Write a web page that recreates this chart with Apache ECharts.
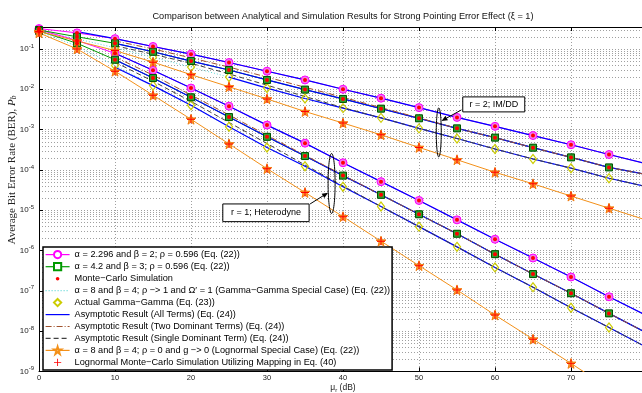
<!DOCTYPE html>
<html><head><meta charset="utf-8">
<script src="https://cdn.jsdelivr.net/npm/echarts@6/dist/echarts.min.js"></script>
<style>html,body{margin:0;padding:0;background:#fff}#c{width:642px;height:393px}</style>
</head><body><div id="c"></div>
<script>
// ---- x positions (dB) ----
const mu = [0,5,10,15,20,25,30,35,40,45,50,55,60,65,70,75,80];

// ---- r = 2 (IM/DD) exact results ----
const imddAlpha2296 = [3.2e-1,2.5e-1,1.8e-1,1.15e-1,7.4e-2,4.6e-2,2.8e-2,1.7e-2,1.0e-2,6.0e-3,3.5e-3,2.0e-3,1.2e-3,7.1e-4,4.2e-4,2.4e-4,1.4e-4];
const imddAlpha42   = [2.95e-1,2.0e-1,1.38e-1,8.5e-2,5.0e-2,3.0e-2,1.7e-2,9.8e-3,5.75e-3,3.3e-3,1.9e-3,1.07e-3,6.3e-4,3.55e-4,2.04e-4,1.15e-4,7.6e-5];
const imddGammaGamma= [2.8e-1,1.78e-1,1.07e-1,6.2e-2,3.55e-2,2.0e-2,1.07e-2,5.9e-3,3.4e-3,1.95e-3,1.07e-3,6.0e-4,3.3e-4,1.86e-4,1.1e-4,6.2e-5,3.8e-5];
const imddLognormal = [2.7e-1,1.58e-1,9.1e-2,4.7e-2,2.3e-2,1.15e-2,5.75e-3,2.8e-3,1.45e-3,7.4e-4,3.6e-4,1.78e-4,8.7e-5,4.5e-5,2.24e-5,1.12e-5,5.6e-6];

// ---- r = 1 (Heterodyne) exact results ----
const hetAlpha2296 = [3.0e-1,1.62e-1,7.8e-2,2.95e-2,1.07e-2,3.8e-3,1.29e-3,4.6e-4,1.5e-4,5.1e-5,1.74e-5,5.75e-6,1.9e-6,6.5e-7,2.2e-7,7.1e-8,2.4e-8];
const hetAlpha42   = [2.8e-1,1.38e-1,5.4e-2,1.9e-2,6.3e-3,2.04e-3,6.6e-4,2.2e-4,7.2e-5,2.4e-5,7.9e-6,2.6e-6,8.1e-7,2.6e-7,8.7e-8,2.75e-8,8.9e-9];
const hetGammaGamma= [2.7e-1,1.17e-1,3.9e-2,1.23e-2,4.0e-3,1.17e-3,3.6e-4,1.23e-4,3.8e-5,1.23e-5,3.9e-6,1.23e-6,3.8e-7,1.23e-7,3.8e-8,1.23e-8,3.9e-9];
const hetLognormal = [2.5e-1,1.0e-1,2.8e-2,7.1e-3,1.8e-3,4.4e-4,1.07e-4,2.75e-5,6.9e-6,1.7e-6,4.2e-7,1.05e-7,2.5e-8,6.3e-9,1.58e-9,3.8e-10,9.5e-11];

// ---- asymptotic results (start dB, values every 5 dB) ----
const imddAllTermsA2296Start = 5;
const imddAllTermsA2296 = [2.7e-1,1.8e-1,1.15e-1,7.4e-2,4.6e-2,2.8e-2,1.7e-2,1.0e-2,6.0e-3,3.5e-3,2.0e-3,1.2e-3,7.1e-4,4.2e-4,2.4e-4,1.4e-4];
const imddAllTermsA42Start = 10;
const imddAllTermsA42 = [1.38e-1,8.5e-2,5.0e-2,3.0e-2,1.7e-2,9.8e-3,5.75e-3,3.3e-3,1.9e-3,1.07e-3,6.3e-4,3.55e-4,2.04e-4,1.15e-4,7.6e-5];
const imddAllTermsGGStart = 25;
const imddAllTermsGG = [2.0e-2,1.07e-2,5.9e-3,3.4e-3,1.95e-3,1.07e-3,6.0e-4,3.3e-4,1.86e-4,1.1e-4,6.2e-5,3.8e-5];
const hetAllTermsA2296Start = 10;
const hetAllTermsA2296 = [7.8e-2,2.95e-2,1.07e-2,3.8e-3,1.29e-3,4.6e-4,1.5e-4,5.1e-5,1.74e-5,5.75e-6,1.9e-6,6.5e-7,2.2e-7,7.1e-8,2.4e-8];
const hetAllTermsA42Start = 10;
const hetAllTermsA42 = [5.4e-2,1.9e-2,6.3e-3,2.04e-3,6.6e-4,2.2e-4,7.2e-5,2.4e-5,7.9e-6,2.6e-6,8.1e-7,2.6e-7,8.7e-8,2.75e-8,8.9e-9];
const hetAllTermsGGStart = 10;
const hetAllTermsGG = [3.5e-2,1.23e-2,4.0e-3,1.17e-3,3.6e-4,1.23e-4,3.8e-5,1.23e-5,3.9e-6,1.23e-6,3.8e-7,1.23e-7,3.8e-8,1.23e-8,3.9e-9];

const imddTwoTermsStart = 10;
const imddTwoTerms = [1.58e-1,1.0e-1,6.0e-2,3.55e-2,2.0e-2,1.12e-2,6.3e-3,3.5e-3,1.95e-3,1.07e-3,6.3e-4,3.55e-4,2.04e-4,1.15e-4,7.6e-5];
const hetTwoTermsStart = 10;
const hetTwoTerms = [6.3e-2,2.24e-2,7.2e-3,2.3e-3,7.2e-4,2.3e-4,7.4e-5,2.4e-5,7.9e-6,2.6e-6,8.1e-7,2.6e-7,8.7e-8,2.75e-8,8.9e-9];

const imddOneTermStart = 10;
const imddOneTerm = [1.2e-1,7.4e-2,4.4e-2,2.4e-2,1.26e-2,6.6e-3,3.5e-3,1.95e-3,1.07e-3,6.0e-4,3.3e-4,1.86e-4,1.1e-4,6.2e-5,3.8e-5];
const hetOneTermStart = 10;
const hetOneTerm = [4.7e-2,1.58e-2,5.0e-3,1.5e-3,4.5e-4,1.32e-4,4.0e-5,1.23e-5,3.9e-6,1.23e-6,3.8e-7,1.23e-7,3.8e-8,1.23e-8,3.9e-9];

// ---- names / labels ----
const N1 = 'α = 2.296 and β = 2; ρ = 0.596 (Eq. (22))';
const N2 = 'α = 4.2 and β = 3; ρ = 0.596 (Eq. (22))';
const N3 = 'Monte−Carlo Simulation';
const N4 = 'α = 8 and β = 4; ρ −> 1 and Ω′ = 1 (Gamma−Gamma Special Case) (Eq. (22))';
const N5 = 'Actual Gamma−Gamma (Eq. (23))';
const N6 = 'Asymptotic Result (All Terms) (Eq. (24))';
const N7 = 'Asymptotic Result (Two Dominant Terms) (Eq. (24))';
const N8 = 'Asymptotic Result (Single Dominant Term) (Eq. (24))';
const N9 = 'α = 8 and β = 4; ρ = 0 and g −> 0 (Lognormal Special Case) (Eq. (22))';
const N10 = 'Lognormal Monte−Carlo Simulation Utilizing Mapping in Eq. (40)';
const titleText = 'Comparison between Analytical and Simulation Results for Strong Pointing Error Effect (ξ = 1)';
const annoIMDD = 'r = 2; IM/DD';
const annoHet = 'r = 1; Heterodyne';

// ---- styling ----
const FONT = '"Liberation Sans", Arial, sans-serif';
const SERIF = '"Liberation Serif", "Times New Roman", serif';
const GRIDC = '#a0a0a0';
const STAR = 'path://M50,2 L61,37 L98,37 L68,59 L79,94 L50,72 L21,94 L32,59 L2,37 L39,37 Z';
const PLUS = 'path://M4.4,0 H5.6 V4.4 H10 V5.6 H5.6 V10 H4.4 V5.6 H0 V4.4 H4.4 Z';
const SMALLDOT = 'path://M0,0 M20,20 M6,10 A4,4 0 1,1 14,10 A4,4 0 1,1 6,10 Z';

const hideSym = { itemStyle: { opacity: 0 } };
const legendData = [
  { name: N1 }, { name: N2 }, { name: N3, icon: SMALLDOT }, { name: N4, ...hideSym }, { name: N5 },
  { name: N6, ...hideSym }, { name: N7, ...hideSym }, { name: N8, ...hideSym }, { name: N9 }, { name: N10 }
];

const pts = (xs, ys) => ys.map((v, i) => [xs[i], v]);
const from = (start, ys) => ys.map((v, i) => [start + 5 * i, v]);
const markersOnly = (xs, ys) => pts(xs, ys).slice(0, 16);

// minor grid values (2..9 x 10^n) inside the plotted range
const yMin = 1e-9, yMax = 0.35;
const minorGrid = [];
for (let e = -9; e <= -1; e++) for (let k = 2; k <= 9; k++) { const v = k * Math.pow(10, e); if (v < yMax) minorGrid.push([0, v]); }

const series = [];
// minor log grid lines drawn through the axis scales
series.push({ type: 'custom', name: '_grid', silent: true, z: 0, data: minorGrid, encode: { x: 0, y: 1 },
  renderItem: (params, api) => {
    const v = api.value(1);
    const p1 = api.coord([0, v]), p2 = api.coord([80, v]);
    const y = Math.round(p1[1]) + 0.5;
    return { type: 'line', silent: true, shape: { x1: p1[0], y1: y, x2: p2[0], y2: y },
      style: { stroke: GRIDC, lineWidth: 1, lineDash: [1, 2] } };
  } });

// cyan dotted gamma-gamma special case
[imddGammaGamma, hetGammaGamma].forEach(arr => series.push({ name: N4, type: 'line', data: pts(mu, arr), symbol: 'none',
  lineStyle: { color: '#5fd7d7', width: 1, type: [1,2] }, itemStyle: { color: '#5fd7d7' }, z: 1 }));

// exact lines
[imddAlpha2296, hetAlpha2296].forEach(arr => series.push({ name: N1, type: 'line', data: pts(mu, arr), symbol: 'circle', symbolSize: 7,
  lineStyle: { color: '#ff00ff', width: 1 }, itemStyle: { color: '#ffffff', borderColor: '#ff00ff', borderWidth: 1 }, z: 2 }));
[imddAlpha42, hetAlpha42].forEach(arr => series.push({ name: N2, type: 'line', data: pts(mu, arr), symbol: 'rect', symbolSize: 6,
  lineStyle: { color: '#009a00', width: 1 }, itemStyle: { color: '#ffffff', borderColor: '#009a00', borderWidth: 1 }, z: 2 }));
[imddLognormal, hetLognormal].forEach(arr => series.push({ name: N9, type: 'line', data: pts(mu, arr), symbol: STAR, symbolSize: 9,
  lineStyle: { color: '#f39019', width: 1 }, itemStyle: { color: '#ffe2b8', borderColor: '#f39019', borderWidth: 1 }, z: 2 }));

// asymptotic all terms (blue)
[[imddAllTermsA2296Start, imddAllTermsA2296],[imddAllTermsA42Start, imddAllTermsA42],[imddAllTermsGGStart, imddAllTermsGG],
 [hetAllTermsA2296Start, hetAllTermsA2296],[hetAllTermsA42Start, hetAllTermsA42],[hetAllTermsGGStart, hetAllTermsGG]]
 .forEach(([s, arr]) => series.push({ name: N6, type: 'line', data: from(s, arr), symbol: 'none',
  lineStyle: { color: '#0000ff', width: 1.2 }, itemStyle: { color: '#0000ff' }, z: 3 }));
// two dominant terms (brown dash-dot)
[[imddTwoTermsStart, imddTwoTerms],[hetTwoTermsStart, hetTwoTerms]].forEach(([s, arr]) => series.push({ name: N7, type: 'line',
  data: from(s, arr), symbol: 'none', lineStyle: { color: '#a0522d', width: 1, type: [6,2,1,2] }, itemStyle: { color: '#a0522d' }, z: 4 }));
// single dominant term (dark dashed)
[[imddOneTermStart, imddOneTerm],[hetOneTermStart, hetOneTerm]].forEach(([s, arr]) => series.push({ name: N8, type: 'line',
  data: from(s, arr), symbol: 'none', lineStyle: { color: '#404040', width: 1, type: [5,3] }, itemStyle: { color: '#404040' }, z: 4 }));

// marker overlays
const noLine = { width: 0, opacity: 0 };
[imddGammaGamma, hetGammaGamma].forEach(arr => series.push({ name: N5, type: 'line', data: markersOnly(mu, arr), symbol: 'diamond', symbolSize: [7,9],
  lineStyle: noLine, itemStyle: { color: 'rgba(255,255,255,0)', borderColor: '#cccc00', borderWidth: 1.2 }, z: 5 }));
[imddAlpha2296, hetAlpha2296].forEach(arr => series.push({ name: N1, type: 'line', data: markersOnly(mu, arr), symbol: 'circle', symbolSize: 8,
  lineStyle: noLine, itemStyle: { color: '#f07af0', borderColor: '#ff00ff', borderWidth: 1 }, z: 5 }));
[imddAlpha42, hetAlpha42].forEach(arr => series.push({ name: N2, type: 'line', data: markersOnly(mu, arr), symbol: 'rect', symbolSize: 7,
  lineStyle: noLine, itemStyle: { color: '#2fa02f', borderColor: '#005500', borderWidth: 1 }, z: 5 }));
[imddLognormal, hetLognormal].forEach(arr => series.push({ name: N9, type: 'line', data: markersOnly(mu, arr), symbol: STAR, symbolSize: 10,
  lineStyle: noLine, itemStyle: { color: '#ff9a30', borderColor: '#f07a10', borderWidth: 0.8 }, z: 5 }));
// Monte-Carlo dots
[imddAlpha2296, imddAlpha42, hetAlpha2296, hetAlpha42].forEach(arr => series.push({ name: N3, type: 'line', data: markersOnly(mu, arr),
  symbol: 'circle', symbolSize: 4, symbolKeepAspect: true, lineStyle: noLine, itemStyle: { color: '#ff0000' }, z: 6 }));
// Lognormal Monte-Carlo plus
[imddLognormal, hetLognormal].forEach(arr => series.push({ name: N10, type: 'line', data: markersOnly(mu, arr),
  symbol: PLUS, symbolSize: 8, symbolKeepAspect: true, lineStyle: noLine, itemStyle: { color: '#ff0000' }, z: 6 }));

const chart = echarts.init(document.getElementById('c'), null, { renderer: 'canvas', width: 642, height: 393 });
const axisTextStyle = { color: '#222', fontFamily: FONT };
chart.setOption({
  animation: false,
  backgroundColor: '#ffffff',
  grid: { left: 39, right: -5, top: 27, bottom: 21.6, containLabel: false, outerBoundsMode: 'none' },
  xAxis: [
    { type: 'value', min: 0, max: 80, interval: 10, position: 'bottom',
      axisLine: { lineStyle: { color: '#000', width: 1 } },
      axisTick: { inside: true, length: 4, lineStyle: { color: '#000' } },
      axisLabel: { ...axisTextStyle, fontSize: 7.5, margin: 3, showMaxLabel: false },
      splitLine: { show: true, lineStyle: { color: GRIDC, width: 1, type: [1,2] } },
      name: 'μ{s|r} (dB)', nameLocation: 'middle', nameGap: 11, nameMoveOverlap: false,
      nameTextStyle: { color: '#222', fontFamily: FONT, fontSize: 8.5, rich: { s: { fontSize: 6, fontFamily: FONT, color: '#222', padding: [5,0,0,0] } } } },
    { type: 'value', min: 0, max: 80, interval: 10, position: 'top',
      axisLine: { lineStyle: { color: '#000', width: 1 } },
      axisTick: { inside: true, length: 4, lineStyle: { color: '#000' } },
      axisLabel: { show: false }, splitLine: { show: false } }
  ],
  yAxis: { type: 'log', logBase: 10, min: yMin, max: yMax, interval: 1,
    axisLine: { show: true, lineStyle: { color: '#000', width: 1 } },
    axisTick: { show: true, inside: true, length: 4, lineStyle: { color: '#000' } },
    splitLine: { show: true, lineStyle: { color: GRIDC, width: 1, type: [1,2] } },
    axisLabel: { margin: 5, color: '#222',
      formatter: v => { const l = Math.log10(v); const e = Math.round(l); if (Math.abs(l - e) > 1e-6) return ''; return '{b|10}{s|' + e + '}'; },
      rich: { b: { fontSize: 8, fontFamily: FONT, color: '#222' }, s: { fontSize: 6, fontFamily: FONT, color: '#222', padding: [0,0,6,0] } } } },
  legend: { data: legendData, orient: 'vertical', left: 43, top: 247, padding: [3, 2, 3, 2], itemGap: 2.9,
    itemWidth: 24, itemHeight: 9, backgroundColor: '#fff', borderColor: '#000', borderWidth: 1.5, borderRadius: 0,
    lineStyle: { width: 1.2 },
    selectedMode: false, textStyle: { fontFamily: FONT, fontSize: 9.2, color: '#000' } },
  series: series
});

// text and annotations anchored to the axes
const cIM = chart.convertToPixel({ seriesIndex: 1 }, [52.6, 8.5e-4]);
const cHet = chart.convertToPixel({ seriesIndex: 1 }, [38.5, 4.6e-5]);
function arrow(x1, y1, x2, y2) {
  const a = Math.atan2(y2 - y1, x2 - x1), L = 6, W = 2.5;
  const bx = x2 - L * Math.cos(a), by = y2 - L * Math.sin(a);
  return [
    { type: 'line', shape: { x1, y1, x2: bx, y2: by }, style: { stroke: '#000', lineWidth: 1 }, z: 100 },
    { type: 'polygon', shape: { points: [[x2, y2], [bx + W * Math.sin(a), by - W * Math.cos(a)], [bx - W * Math.sin(a), by + W * Math.cos(a)]] }, style: { fill: '#000' }, z: 100 }
  ];
}
const g = [
  { type: 'text', x: 343, y: 16, style: { text: titleText, font: '9.2px ' + FONT, fill: '#111', align: 'center', verticalAlign: 'middle' }, z: 100 },
  { type: 'text', x: 12, y: 170, rotation: Math.PI / 2,
    style: { text: 'Average Bit Error Rate (BER), {i|P}{sb|b}', font: '11px ' + SERIF, fill: '#222', align: 'center', verticalAlign: 'middle',
      rich: { i: { fontStyle: 'italic', fontFamily: SERIF, fontSize: 11, fill: '#222' }, sb: { fontSize: 7.5, fontFamily: SERIF, fontStyle: 'italic', fill: '#222', padding: [5,0,0,0] } } }, z: 100 },
  // IM/DD annotation
  { type: 'ellipse', shape: { cx: cIM[0], cy: cIM[1], rx: 2.5, ry: 24.5 }, style: { fill: 'none', stroke: '#000', lineWidth: 1 }, z: 100 },
  ...arrow(cIM[0] + 22.7, cIM[1] - 22.5, cIM[0] + 2.7, cIM[1] - 11.5),
  { type: 'rect', shape: { x: cIM[0] + 24, y: cIM[1] - 35.5, width: 62, height: 15 }, style: { fill: '#fff', stroke: '#000', lineWidth: 1 }, z: 100 },
  { type: 'text', x: cIM[0] + 55, y: cIM[1] - 28, style: { text: annoIMDD, font: '9px ' + FONT, fill: '#000', align: 'center', verticalAlign: 'middle' }, z: 101 },
  // Heterodyne annotation
  { type: 'ellipse', shape: { cx: cHet[0], cy: cHet[1], rx: 3.5, ry: 30 }, style: { fill: 'none', stroke: '#000', lineWidth: 1 }, z: 100 },
  ...arrow(cHet[0] - 21.5, cHet[1] + 20.5, cHet[0] - 3.5, cHet[1] + 9.2),
  { type: 'rect', shape: { x: cHet[0] - 108.8, y: cHet[1] + 20.5, width: 86.3, height: 17.7 }, style: { fill: '#fff', stroke: '#000', lineWidth: 1 }, z: 100 },
  { type: 'text', x: cHet[0] - 65.6, y: cHet[1] + 29.4, style: { text: annoHet, font: '9px ' + FONT, fill: '#000', align: 'center', verticalAlign: 'middle' }, z: 101 }
];
chart.setOption({ graphic: g });
</script></body></html>
